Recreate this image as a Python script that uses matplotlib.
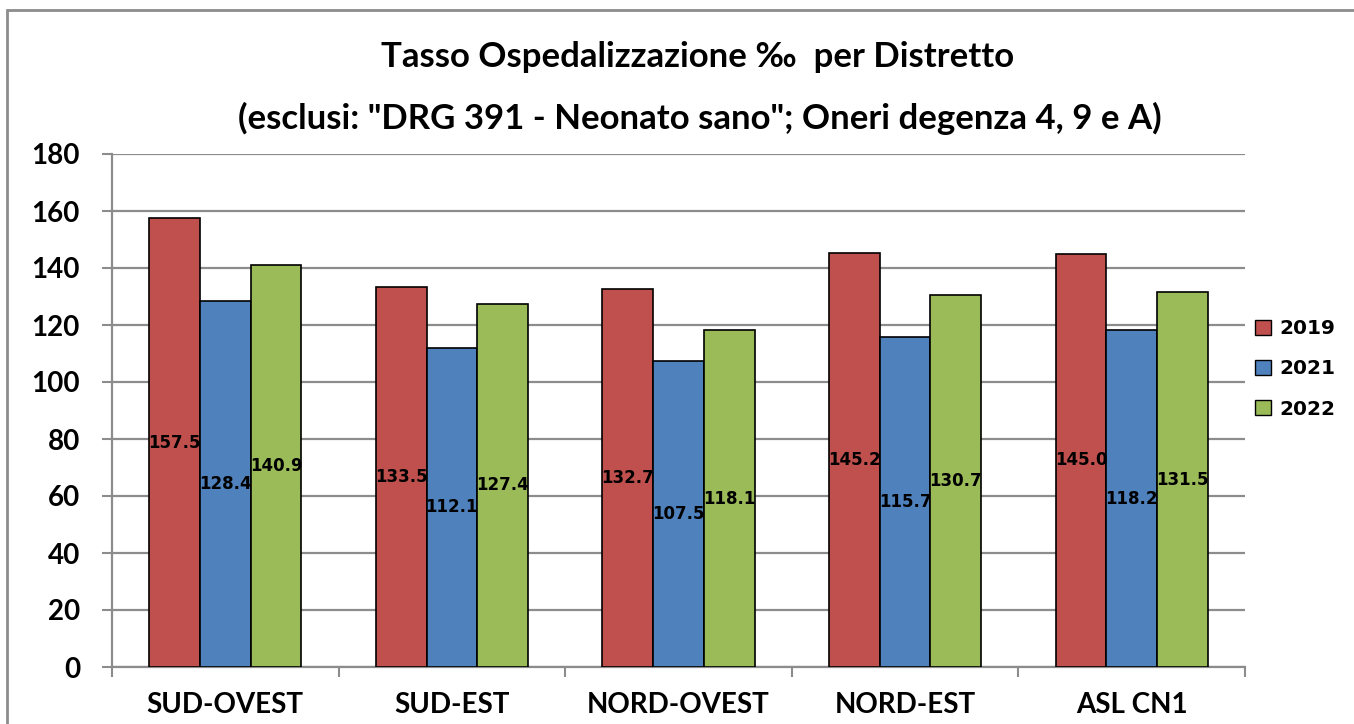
import numpy as np
import matplotlib.pyplot as plt
from matplotlib.patches import Patch, Rectangle

# Data
districts = ["SUD-OVEST", "SUD-EST", "NORD-OVEST", "NORD-EST", "ASL CN1"]
years = ["2019", "2021", "2022"]
val_2019 = [157.5, 133.5, 132.7, 145.2, 145.0]
val_2021 = [128.4, 112.1, 107.5, 115.7, 118.2]
val_2022 = [140.9, 127.4, 118.1, 130.7, 131.5]
colors = ["#C0504D", "#4F81BD", "#9BBB59"]

title1 = "Tasso Ospedalizzazione \u2030  per Distretto"
title2 = '(esclusi: "DRG 391 - Neonato sano"; Oneri degenza 4, 9 e A)'

W, H = 1354, 724
fig = plt.figure(figsize=(W / 100, H / 100), dpi=100)
ax = fig.add_axes([112 / W, 1 - 667 / H, (1245 - 112) / W, (667 - 154) / H])

grid_col = "#8C8C8C"
x = np.arange(len(districts))
w = 0.224
series = [val_2019, val_2021, val_2022]
for i, (vals, col) in enumerate(zip(series, colors)):
    pos = x + (i - 1) * w
    ax.bar(pos, vals, width=w, color=col, edgecolor="black", linewidth=1.2, zorder=3)
    for p, v in zip(pos, vals):
        ax.text(p, v / 2, f"{v:.1f}", ha="center", va="center", fontsize=12,
                fontweight="bold", family="DejaVu Sans", color="black", zorder=4)

ax.set_xlim(-0.5, len(districts) - 0.5)
ax.set_ylim(0, 180)
ax.set_yticks(np.arange(0, 181, 20))
ax.yaxis.grid(True, color=grid_col, linewidth=1.6, zorder=0)
ax.set_axisbelow(True)

ax.set_xticks(x)
ax.set_xticklabels(districts, fontsize=20, fontweight="bold", family=["Lato", "DejaVu Sans"])
ax.set_xticks(np.arange(-0.5, len(districts), 1), minor=True)
ax.tick_params(axis="x", which="major", length=0, pad=18)
ax.tick_params(axis="x", which="minor", length=7, width=1.5, color=grid_col, direction="out")
ax.tick_params(axis="y", length=7, width=1.5, color=grid_col, pad=16)
for lab in ax.get_yticklabels():
    lab.set_fontsize(20)
    lab.set_fontweight("bold")
    lab.set_family(["Lato", "DejaVu Sans"])

for s in ["top", "right"]:
    ax.spines[s].set_visible(False)
for s in ["left", "bottom"]:
    ax.spines[s].set_color(grid_col)
    ax.spines[s].set_linewidth(1.6)

# titles
fig.text(698 / W, 1 - 57 / H, title1, ha="center", va="center", fontsize=25,
         fontweight="bold", family=["Lato", "DejaVu Sans"])
fig.text(700 / W, 1 - 118 / H, title2, ha="center", va="center", fontsize=25,
         fontweight="bold", family=["Lato", "DejaVu Sans"])

# legend
handles = [Patch(facecolor=c, edgecolor="black", linewidth=1.0) for c in colors]
fig.legend(handles, years, loc="center left", bbox_to_anchor=(1255 / W, 1 - 369 / H),
           frameon=False, borderpad=0, borderaxespad=0, handlelength=0.8,
           handleheight=0.8, handletextpad=0.4, labelspacing=1.05,
           prop={"family": "DejaVu Sans", "weight": "bold", "size": 14.5})

# outer chart frame
fig.patches.append(Rectangle((7 / W, -0.2), 1.5, 1.2 - 10 / H, transform=fig.transFigure,
                             fill=False, edgecolor=grid_col, linewidth=2))

fig.savefig("out.png", dpi=100)
